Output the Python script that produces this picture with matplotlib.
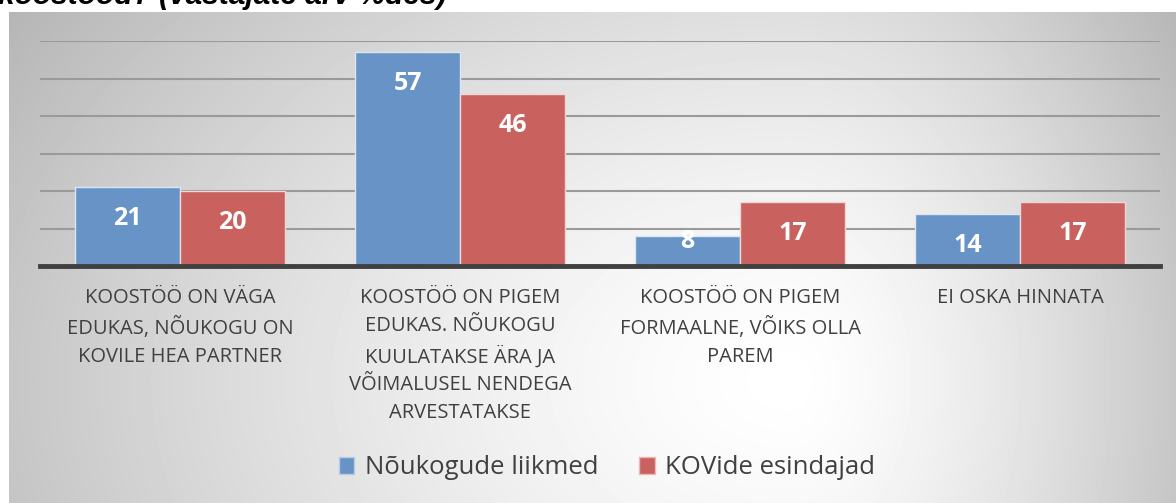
import numpy as np
import matplotlib.pyplot as plt
from matplotlib.patches import Patch

categories = [
    "KOOSTÖÖ ON VÄGA\nEDUKAS, NÕUKOGU ON\nKOVILE HEA PARTNER",
    "KOOSTÖÖ ON PIGEM\nEDUKAS. NÕUKOGU\nKUULATAKSE ÄRA JA\nVÕIMALUSEL NENDEGA\nARVESTATAKSE",
    "KOOSTÖÖ ON PIGEM\nFORMAALNE, VÕIKS OLLA\nPAREM",
    "EI OSKA HINNATA",
]
noukogud = [21, 57, 8, 14]
kovid = [20, 46, 17, 17]
series_names = ["Nõukogude liikmed", "KOVide esindajad"]

blue = "#6793c7"
red = "#c9625f"

W, H = 1176, 503
fig = plt.figure(figsize=(W / 100, H / 100), dpi=100)

# gradient background of the chart area
bg = fig.add_axes([9 / W, 0, 1 - 9 / W, (H - 12) / H])
bx, by = np.meshgrid(np.arange(9, W), np.arange(12, H))
cx, cy = 790, 380
rx = np.where(bx < cx, 800, 400)
d = np.sqrt(((bx - cx) / rx) ** 2 + ((by - cy) / 560) ** 2)
shade = 1 - 0.23 * np.clip(d, 0, 1.2) ** 1.4
bg.imshow(shade, cmap="gray", vmin=0, vmax=1, aspect="auto",
          interpolation="bilinear")
bg.axis("off")

# title, cut off at the top as in the source
fig.text(-0.002, 1 - 4 / H, "koostööd? (vastajate arv %des)", fontsize=21.5,
         fontweight="bold", fontstyle="italic", family="Liberation Sans",
         va="baseline", ha="left")

ax = fig.add_axes([40 / W, (H - 266) / H, 1120 / W, (266 - 41) / H])
ax.patch.set_alpha(0)
x = np.arange(len(categories))
w = 0.375
b1 = ax.bar(x - w / 2, noukogud, w, color=blue, edgecolor="#dce6f2",
            linewidth=1, zorder=3)
b2 = ax.bar(x + w / 2, kovid, w, color=red, edgecolor="#f0d6d5",
            linewidth=1, zorder=3)

for bars in (b1, b2):
    for r in bars:
        v = r.get_height()
        y = v - 8.4 if v > 12 else v - 1.5
        ax.text(r.get_x() + r.get_width() / 2, y, str(int(v)),
                ha="center", va="center", color="white", fontsize=18,
                fontweight="bold", family="Open Sans", zorder=4)

ax.set_xlim(-0.5, len(categories) - 0.5)
ax.set_ylim(0, 60)
ax.set_yticks(np.arange(10, 61, 10))
ax.yaxis.grid(True, color="#9a9a9a", linewidth=1.5, zorder=1)
ax.tick_params(axis="y", length=0, labelleft=False)
ax.tick_params(axis="x", length=0, pad=16)
ax.set_xticks(x)
ax.set_xticklabels(categories, fontsize=14.5, color="#404040",
                   family="Open Sans", linespacing=1.52, va="top")
for s in ("top", "right", "left"):
    ax.spines[s].set_visible(False)
ax.spines["bottom"].set_color("#404040")
ax.spines["bottom"].set_linewidth(3.5)
ax.spines["bottom"].set_zorder(5)

handles = [Patch(facecolor=blue, edgecolor="#b8cce4"),
           Patch(facecolor=red, edgecolor="#e6b9b8")]
fig.legend(handles, series_names, loc="center", bbox_to_anchor=(0.516, 1 - 468 / H),
           ncol=2, frameon=False, handlelength=0.6,
           handleheight=0.6, handletextpad=0.4, columnspacing=1.6,
           prop={"family": "Open Sans", "size": 18.5}, labelcolor="#404040")

fig.savefig("out.png", dpi=100)
